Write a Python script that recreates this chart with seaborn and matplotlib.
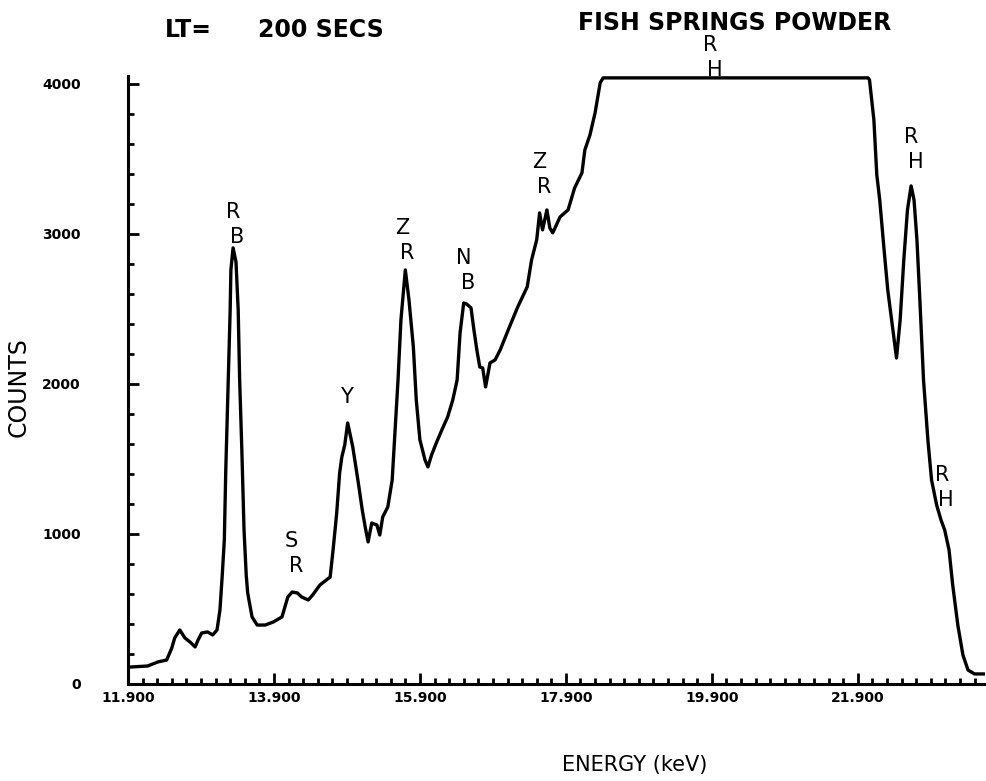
import numpy as np
import pandas as pd
import matplotlib
matplotlib.use('Agg')
import matplotlib.pyplot as plt
import seaborn as sns
from matplotlib.ticker import MultipleLocator, FixedLocator, FormatStrFormatter

# spectrum (keV, counts)
energy = [11.93, 12.17, 12.31, 12.43, 12.50, 12.54, 12.61, 12.68, 12.75, 12.82,
          12.86, 12.91, 12.99, 13.06, 13.12, 13.16, 13.19, 13.22, 13.24, 13.27,
          13.30, 13.31, 13.34, 13.38, 13.41, 13.43, 13.46, 13.49, 13.52, 13.54,
          13.60, 13.67, 13.78, 13.89, 14.01, 14.09, 14.15, 14.22, 14.28, 14.37,
          14.43, 14.53, 14.67, 14.71, 14.76, 14.80, 14.83, 14.87, 14.91, 14.98,
          15.05, 15.11, 15.15, 15.19, 15.24, 15.31, 15.35, 15.39, 15.46, 15.52,
          15.56, 15.60, 15.64, 15.70, 15.75, 15.81, 15.85, 15.90, 15.97, 16.01,
          16.06, 16.13, 16.20, 16.28, 16.35, 16.41, 16.45, 16.50, 16.54, 16.60,
          16.64, 16.68, 16.72, 16.76, 16.80, 16.86, 16.93, 17.00, 17.11, 17.24,
          17.37, 17.43, 17.50, 17.54, 17.58, 17.64, 17.68, 17.72, 17.82, 17.93,
          18.02, 18.12, 18.16, 18.23, 18.30, 18.37, 18.41, 22.04, 22.06, 22.12,
          22.16, 22.20, 22.26, 22.31, 22.38, 22.43, 22.48, 22.53, 22.58, 22.63,
          22.67, 22.71, 22.75, 22.80, 22.86, 22.91, 22.98, 23.04, 23.09, 23.15,
          23.20, 23.27, 23.34, 23.41, 23.50, 23.64]
counts = [113, 120, 147, 160, 240, 307, 360, 307, 280, 247,
          293, 340, 347, 327, 360, 493, 713, 960, 1427, 1960,
          2493, 2760, 2907, 2813, 2493, 2027, 1560, 1027, 727, 607,
          447, 393, 393, 413, 447, 580, 613, 607, 580, 560,
          593, 660, 713, 893, 1140, 1407, 1513, 1593, 1740, 1580,
          1360, 1160, 1047, 947, 1073, 1060, 993, 1113, 1180, 1360,
          1693, 2027, 2427, 2760, 2560, 2247, 1893, 1627, 1493, 1447,
          1527, 1613, 1693, 1780, 1893, 2027, 2340, 2540, 2533, 2507,
          2360, 2227, 2113, 2107, 1980, 2140, 2160, 2227, 2360, 2513,
          2647, 2827, 2960, 3140, 3027, 3160, 3040, 3007, 3113, 3160,
          3307, 3407, 3560, 3660, 3807, 4007, 4040, 4040, 4027, 3760,
          3393, 3227, 2893, 2627, 2360, 2173, 2427, 2827, 3160, 3320,
          3227, 2960, 2560, 2027, 1627, 1360, 1193, 1093, 1027, 893,
          660, 393, 193, 93, 67, 67]

# peak labels: first letter, second letter, energy, counts of first letter
label_top = ['R', 'S', 'Y', 'Z', 'N', 'Z', 'R', 'R', 'R']
label_bot = ['B', 'R', '', 'R', 'B', 'R', 'H', 'H', 'H']
label_e = [13.34, 14.14, 14.89, 15.66, 16.50, 17.54, 19.88, 22.63, 23.05]
label_c = [3147, 953, 1913, 3040, 2840, 3480, 4260, 3647, 1393]

xticks = [11.9, 13.9, 15.9, 17.9, 19.9, 21.9]
yticks = [0, 1000, 2000, 3000, 4000]

df = pd.DataFrame({'energy': energy, 'counts': counts})

sns.set_style('ticks')
plt.rcParams['font.family'] = ['DejaVu Sans']
plt.rcParams['text.color'] = 'black'
plt.rcParams['xtick.color'] = 'black'
plt.rcParams['ytick.color'] = 'black'
plt.rcParams['axes.edgecolor'] = 'black'

fig = plt.figure(figsize=(9.86, 7.81), dpi=100)
ax = fig.add_axes([0.1298, 0.1242, 0.869, 0.778])

sns.lineplot(data=df, x='energy', y='counts', ax=ax, color='black',
             linewidth=2.4, sort=False, estimator=None)

ax.set_xlim(11.9, 23.64)
ax.set_ylim(0, 4050)
sns.despine(ax=ax)
ax.spines['left'].set_linewidth(2.2)
ax.spines['bottom'].set_linewidth(2.2)

ax.xaxis.set_major_locator(FixedLocator(xticks))
ax.xaxis.set_minor_locator(FixedLocator(np.round(np.arange(11.9, 23.65, 0.2), 2)))
ax.yaxis.set_major_locator(FixedLocator(yticks))
ax.yaxis.set_minor_locator(MultipleLocator(200))
ax.xaxis.set_major_formatter(FormatStrFormatter('%.3f'))
ax.tick_params(axis='both', which='major', direction='in', length=8, width=2,
               labelsize=10, colors='black')
ax.tick_params(axis='both', which='minor', direction='in', length=4, width=2)
ax.tick_params(axis='y', which='major', pad=34)
ax.tick_params(axis='x', which='major', pad=5)
for lab in ax.get_xticklabels() + ax.get_yticklabels():
    lab.set_fontweight('bold')
ax.set_xlabel('')
ax.set_ylabel('')

for t, b, e, c in zip(label_top, label_bot, label_e, label_c):
    ax.text(e, c, t, ha='center', va='center', fontsize=15)
    if b:
        ax.text(e + 0.06, c - 167, b, ha='center', va='center', fontsize=15)

fig.text(0.167, 0.962, 'LT=', fontsize=17, fontweight='bold', va='center')
fig.text(0.262, 0.962, '200 SECS', fontsize=17, fontweight='bold', va='center')
fig.text(0.745, 0.970, 'FISH SPRINGS POWDER', fontsize=17, fontweight='bold',
         ha='center', va='center')
fig.text(0.019, 0.504, 'COUNTS', fontsize=17, rotation=90, ha='center', va='center')
fig.text(0.644, 0.020, 'ENERGY (keV)', fontsize=15, ha='center', va='center')

fig.savefig('out.png', dpi=100)
